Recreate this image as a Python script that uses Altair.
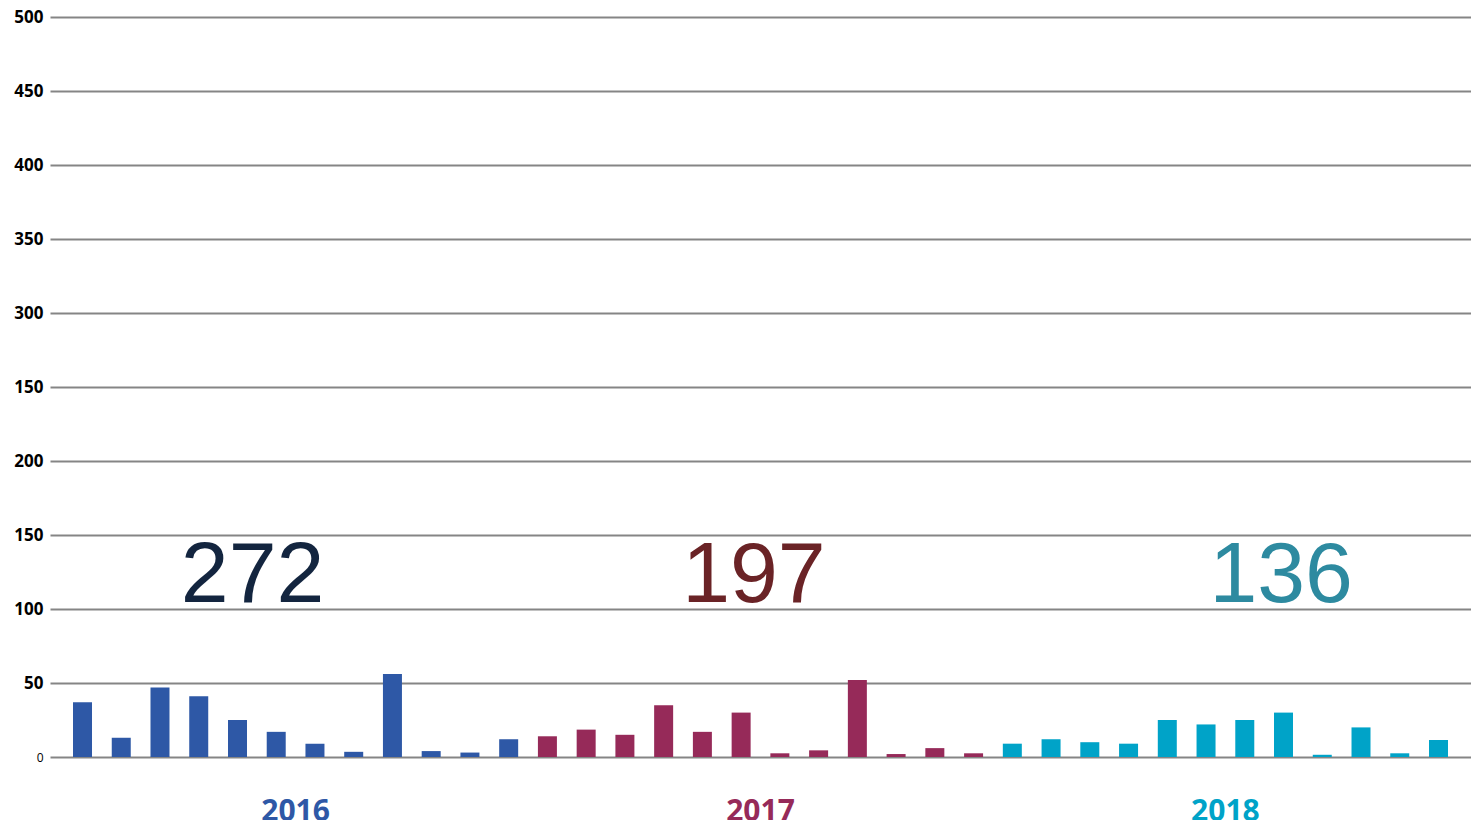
import altair as alt
import pandas as pd

# ---- data ----
years = ["2016", "2017", "2018"]
months = ["Jan", "Feb", "Mar", "Apr", "May", "Jun", "Jul", "Aug", "Sep", "Oct", "Nov", "Dec"]
values_2016 = [37, 13, 47, 41, 25, 17, 9, 3.5, 56, 4, 3, 12]
values_2017 = [14, 18.5, 15, 35, 17, 30, 2.5, 4.5, 52, 2, 6, 2.5]
values_2018 = [9, 12, 10, 9, 25, 22, 25, 30, 1.5, 20, 2.5, 11.5]
totals = ["272", "197", "136"]
y_ticks = [0, 50, 100, 150, 200, 250, 300, 350, 400, 450, 500]

# ---- styling / layout ----
bar_colors = ["#2e58a6", "#962a59", "#00a3c8"]
total_colors = ["#13253f", "#6a2326", "#2d8aa0"]
total_x = [4.39, 17.33, 30.94]      # horizontal position of the totals (bar-index units)
total_y = 104.7                     # baseline of the totals (value units)
year_label_y = -43                  # baseline of the year labels (value units)

rows = []
for yi, (yr, vals) in enumerate(zip(years, [values_2016, values_2017, values_2018])):
    for mi, (m, v) in enumerate(zip(months, vals)):
        rows.append({"year": yr, "month": m, "idx": yi * 12 + mi, "value": v})
bars_df = pd.DataFrame(rows)

year_df = pd.DataFrame({
    "year": years,
    "idx": [bars_df[bars_df.year == y].idx.mean() for y in years],
    "ypos": [year_label_y] * 3,
})
tot_df = pd.DataFrame({
    "year": years,
    "label": totals,
    "idx": total_x,
    "ypos": [total_y] * 3,
})

x_scale = alt.Scale(domain=[-0.71, 35.71], nice=False, zero=False)
y_scale = alt.Scale(domain=[0, 500], nice=False)
color_scale = alt.Scale(domain=years, range=bar_colors)
tot_color_scale = alt.Scale(domain=years, range=total_colors)

bars = alt.Chart(bars_df).mark_bar(size=19).encode(
    x=alt.X("idx:Q", scale=x_scale, axis=None),
    y=alt.Y(
        "value:Q",
        scale=y_scale,
        axis=alt.Axis(
            values=y_ticks,
            title=None,
            domain=False,
            ticks=False,
            labelPadding=7,
            labelColor="#000000",
            labelFont="Open Sans",
            labelFontSize={"condition": {"test": "datum.value == 0", "value": 12}, "value": 17},
            labelFontWeight={"condition": {"test": "datum.value == 0", "value": "normal"}, "value": "bold"},
            labelExpr="datum.value == 250 ? '150' : format(datum.value, 'd')",
            grid=True,
            gridColor="#858585",
            gridWidth=2,
            gridOpacity=1,
        ),
    ),
    color=alt.Color("year:N", scale=color_scale, legend=None),
)

year_labels = alt.Chart(year_df).mark_text(
    font="Open Sans", fontSize=30, fontWeight="bold", baseline="alphabetic", align="center"
).encode(
    x=alt.X("idx:Q", scale=x_scale),
    y=alt.Y("ypos:Q", scale=y_scale),
    text="year:N",
    color=alt.Color("year:N", scale=color_scale, legend=None),
)

total_labels = alt.Chart(tot_df).mark_text(
    font="Liberation Sans", fontSize=86, baseline="alphabetic", align="center"
).encode(
    x=alt.X("idx:Q", scale=x_scale),
    y=alt.Y("ypos:Q", scale=y_scale),
    text="label:N",
    color=alt.Color("year:N", scale=tot_color_scale, legend=None),
)

chart = alt.layer(bars, total_labels, year_labels).resolve_scale(color="independent").properties(
    width=1421,
    height=740,
    autosize=alt.AutoSizeParams(type="none"),
    padding={"left": 42, "top": 9, "right": 0, "bottom": 63},
).configure_view(stroke=None)

chart.save("out.html", embed_options={"renderer": "svg", "actions": False})
